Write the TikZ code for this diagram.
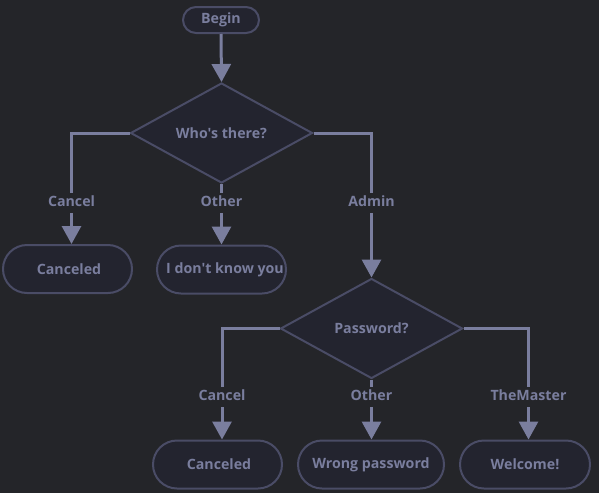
\documentclass[tikz,border=0pt]{standalone}
\usepackage{fontspec}
\setmainfont{Open Sans}[Ligatures=TeXOff]
\usetikzlibrary{shapes.geometric,arrows.meta}
\definecolor{bg}{HTML}{242529}
\definecolor{nodefill}{HTML}{23242F}
\definecolor{nodeline}{HTML}{4A4C66}
\definecolor{ink}{HTML}{7A7E9E}
\tikzset{
  every node/.style={font=\fontsize{14.2}{17}\selectfont\bfseries, text=ink},
  term/.style={draw=nodeline, fill=nodefill, line width=2pt, rounded corners=24pt,
    minimum width=129pt, minimum height=48pt, inner sep=0pt},
  decision/.style={diamond, draw=nodeline, fill=nodefill, line width=2pt,
    minimum width=182pt, minimum height=100pt, inner sep=0pt, aspect=1.8},
  edge/.style={draw=ink, line width=3pt},
  arrowedge/.style={edge, -{Triangle[length=18pt,width=19pt]}},
  lbl/.style={fill=bg, inner xsep=3pt, inner ysep=3.5pt, text height=10.5pt, text depth=3pt},
}
\begin{document}
\begin{tikzpicture}[x=1pt,y=-1pt]
  \fill[bg] (0,0) rectangle (599,493);
  \useasboundingbox (0,0) rectangle (599,493);

  % start and first decision
  \node[term, rounded corners=13pt, minimum width=76pt, minimum height=26pt] (begin) at (221,20) {Begin};
  \node[decision] (who) at (221.5,133) {Who's there?};

  % first row of outcomes
  \node[term] (cancelA) at (67.5,269) {\hspace{3pt}Canceled};
  \node[term] (unknown) at (221.5,269.5) {\hspace{7pt}I don't know you};
  \node[decision] (pwd) at (371.5,328.5) {Password?};

  % second row of outcomes
  \node[term] (cancelB) at (217.5,464.5) {\hspace{3pt}Canceled};
  \node[term, minimum width=146pt] (wrong) at (371,464.5) {Wrong password};
  \node[term, minimum width=130pt] (welcome) at (525,464.5) {Welcome!};

  % edge labels
  \node[lbl] (lCancelA) at (71.5,203) {Cancel};
  \node[lbl] (lOtherA) at (221.5,203) {Other};
  \node[lbl] (lAdmin) at (371.5,203) {Admin};
  \node[lbl] (lCancelB) at (222,397) {Cancel};
  \node[lbl] (lOtherB) at (371.5,397) {Other};
  \node[lbl] (lMaster) at (528.5,397) {TheMaster};

  % connectors
  \draw[arrowedge] (begin.south) -- (who.north);

  \draw[edge] (who.west) -| (lCancelA.north);
  \draw[arrowedge] (lCancelA.south) -- (cancelA.north -| lCancelA.south);
  \draw[edge] (who.south) -- (lOtherA.north);
  \draw[arrowedge] (lOtherA.south) -- (unknown.north -| lOtherA.south);
  \draw[edge] (who.east) -| (lAdmin.north);
  \draw[arrowedge] (lAdmin.south) -- (pwd.north);

  \draw[edge] (pwd.west) -| (lCancelB.north);
  \draw[arrowedge] (lCancelB.south) -- (cancelB.north -| lCancelB.south);
  \draw[edge] (pwd.south) -- (lOtherB.north);
  \draw[arrowedge] (lOtherB.south) -- (wrong.north -| lOtherB.south);
  \draw[edge] (pwd.east) -| (lMaster.north);
  \draw[arrowedge] (lMaster.south) -- (welcome.north -| lMaster.south);
\end{tikzpicture}
\end{document}
